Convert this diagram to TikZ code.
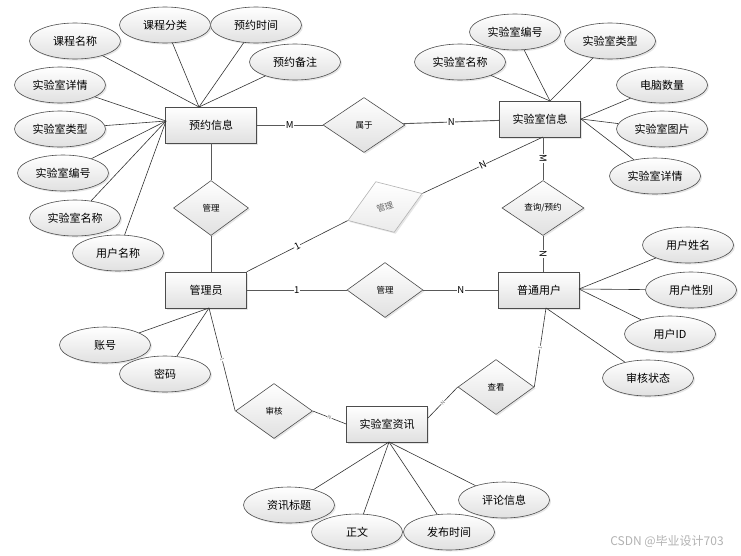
\documentclass[tikz,border=0pt]{standalone}
\usepackage{fontspec}
\setmainfont{Noto Sans CJK SC}
\usetikzlibrary{shapes.geometric,shadows,positioning,calc}

\begin{document}
\begin{tikzpicture}[%
    x=1pt, y=-1pt,              % Pixel-like units, y going down
    line width=0.6pt,
    ]

\tikzset{
  base/.style={draw=black!70, inner sep=0pt, top color=white, bottom color=black!12,
    drop shadow={opacity=0.2, shadow xshift=1.5pt, shadow yshift=-1.5pt}},
  ent/.style={base, rectangle, minimum width=81pt, minimum height=36pt, font=\fontsize{11}{13}\selectfont},
  rel/.style={base, diamond, minimum width=77pt, minimum height=55pt, font=\fontsize{8.5}{10}\selectfont},
  attr/.style={base, ellipse, minimum width=91pt, minimum height=36pt, font=\fontsize{11}{13}\selectfont},
  % -------------------------------------------------
  % Connector line styles
  rline/.style={draw=black!65, line width=0.9pt},
  aline/.style={draw=black!80, line width=0.6pt},
  lbl/.style={fill=white, inner sep=0.5pt, font=\fontsize{9.5}{11}\selectfont},
  smalllbl/.style={lbl, sloped, font=\fontsize{5}{6}\selectfont, text=black!55}
}

  \useasboundingbox (0,0) rectangle (741,555);

  \begin{scope}
    % Entities
    \node[ent, minimum width=91pt] (yuyue) at (211,125) {预约信息};
    \node[ent] (lab) at (540,119) {实验室信息};
    \node[ent] (admin) at (206,290) {管理员};
    \node[ent] (user) at (539,290) {普通用户};
    \node[ent] (news) at (387,424) {实验室资讯};

    % Relations
    \node[rel, minimum width=82pt] (belong) at (364,125) {属于};
    \node[rel, minimum width=75pt] (manage_a) at (211,208) {管理};
    \node[rel, rotate=20, minimum width=79pt, minimum height=54pt, draw=black!30, text=black!60,
      bottom color=black!8] (manage_b) at (385,207) {管理};
    \node[rel, minimum width=82pt] (query) at (543,208) {查询/预约};
    \node[rel, minimum width=76pt] (manage_c) at (385,290) {管理};
    \node[rel] (audit) at (274,411) {审核};
    \node[rel, minimum width=76pt] (view) at (496,387) {查看};

    % Attributes of 预约信息
    \node[attr] (kcmc) at (75,41) {课程名称};
    \node[attr] (kcfl) at (165,25) {课程分类};
    \node[attr] (yysj) at (256,25) {预约时间};
    \node[attr] (yybz) at (295,62) {预约备注};
    \node[attr] (l_sysxq) at (60,85) {实验室详情};
    \node[attr] (l_syslx) at (60,129) {实验室类型};
    \node[attr] (l_sysbh) at (63,173) {实验室编号};
    \node[attr] (l_sysmc) at (75,218) {实验室名称};
    \node[attr] (yhmc) at (118,253) {用户名称};

    % Attributes of 实验室信息
    \node[attr] (r_sysmc) at (460,62) {实验室名称};
    \node[attr] (r_sysbh) at (515,32) {实验室编号};
    \node[attr] (r_syslx) at (610,41) {实验室类型};
    \node[attr] (dnsl) at (662,85) {电脑数量};
    \node[attr] (systp) at (662,129) {实验室图片};
    \node[attr] (r_sysxq) at (655,176) {实验室详情};

    % Attributes of 普通用户
    \node[attr] (yhxm) at (688,245) {用户姓名};
    \node[attr] (yhxb) at (691,290) {用户性别};
    \node[attr] (yhid) at (670,334) {用户ID};
    \node[attr] (shzt) at (648,378) {审核状态};

    % Attributes of 管理员
    \node[attr] (zh) at (105,345) {账号};
    \node[attr] (mm) at (165,374) {密码};

    % Attributes of 实验室资讯
    \node[attr] (zxbt) at (289,505) {资讯标题};
    \node[attr] (zw) at (357,532) {正文};
    \node[attr] (fbsj) at (449,532) {发布时间};
    \node[attr] (plxx) at (504,500) {评论信息};

    \node[font=\fontsize{12}{14}\selectfont, text=black!30] (mark) at (667,542) {CSDN @毕业设计703};

    % coordinates where attribute lines meet the boxes
    \coordinate (yuyue_n) at (199,107);
    \coordinate (yuyue_w) at (166,121);
    \coordinate (lab_n) at (550,101);
    \coordinate (lab_e) at (581,119);
    \coordinate (lab_s) at (543,137);
    \coordinate (user_e) at (579,289);
    \coordinate (user_s) at (546,308);
    \coordinate (admin_s) at (209,308);
    \coordinate (news_s) at (389,442);
    \coordinate (news_e) at (428,418);

    % Relation lines
    \draw[rline] (yuyue) -- node[lbl] {M} (belong);
    \draw[rline] (belong) -- node[lbl] {N} (lab);
    \draw[rline] (yuyue) -- (manage_a);
    \draw[rline] (manage_a) -- (admin.north -| manage_a);
    \draw[aline] (admin.north east) -- node[lbl, sloped] {1} (manage_b.west);
    \draw[aline] (manage_b.east) -- node[lbl, sloped] {N} (lab_s);
    \draw[rline] (lab_s) -- node[lbl, sloped] {M} (query.north);
    \draw[rline] (query.south) -- node[lbl, sloped] {N} (query.south |- user.north);
    \draw[rline] (admin) -- node[lbl] {1} (manage_c);
    \draw[rline] (manage_c) -- node[lbl] {N} (user);
    \draw[aline] (admin_s) -- node[smalllbl] {1} (audit.west);
    \draw[aline] (audit.east) -- node[smalllbl] {N} (news.west);
    \draw[aline] (news_e) -- node[smalllbl] {N} (view.west);
    \draw[aline] (view.east) -- node[smalllbl] {1} (user_s);

    % Attribute lines
    \draw[aline] (kcmc) -- (yuyue_n);
    \draw[aline] (kcfl) -- (yuyue_n);
    \draw[aline] (yysj) -- (yuyue_n);
    \draw[aline] (yybz) -- (yuyue_n);
    \draw[aline] (l_sysxq) -- (yuyue_w);
    \draw[aline] (l_syslx) -- (yuyue_w);
    \draw[aline] (l_sysbh) -- (yuyue_w);
    \draw[aline] (l_sysmc) -- (yuyue_w);
    \draw[aline] (yhmc) -- (yuyue_w);

    \draw[aline] (r_sysmc) -- (lab_n);
    \draw[aline] (r_sysbh) -- (lab_n);
    \draw[aline] (r_syslx) -- (lab_n);
    \draw[aline] (dnsl) -- (lab_e);
    \draw[aline] (systp) -- (lab_e);
    \draw[aline] (r_sysxq) -- (lab_e);

    \draw[aline] (yhxm) -- (user_e);
    \draw[aline] (yhxb) -- (user_e);
    \draw[aline] (yhid) -- (user_e);
    \draw[aline] (shzt) -- (user_s);

    \draw[aline] (zh) -- (admin_s);
    \draw[aline] (mm) -- (admin_s);

    \draw[aline] (zxbt) -- (news_s);
    \draw[aline] (zw) -- (news_s);
    \draw[aline] (fbsj) -- (news_s);
    \draw[aline] (plxx) -- (news_s);
  \end{scope}
\end{tikzpicture}
\end{document}
